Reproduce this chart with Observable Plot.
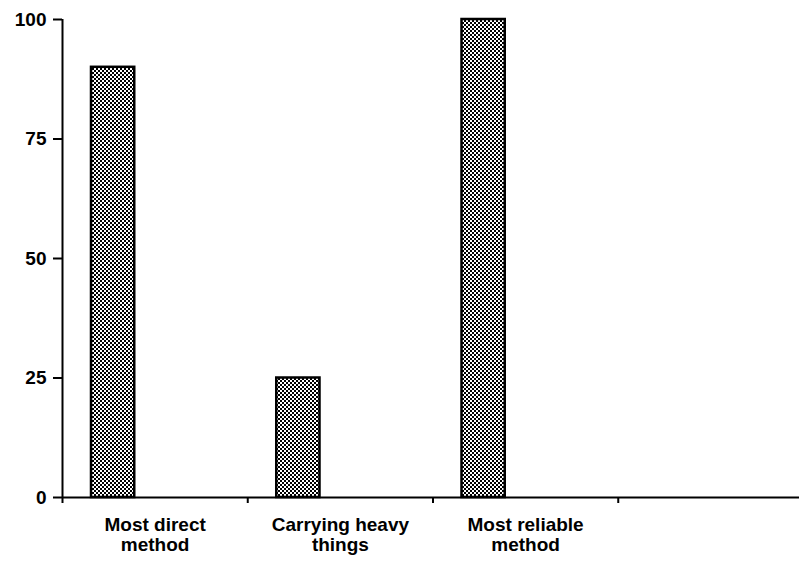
<!DOCTYPE html>
<html>
<head>
<meta charset="utf-8">
<script src="https://cdn.jsdelivr.net/npm/d3@7"></script>
<script src="https://cdn.jsdelivr.net/npm/@observablehq/plot@0.6"></script>
<style>
  html, body { margin: 0; padding: 0; background: #fff; }
  #chart svg { display: block; }
</style>
</head>
<body>
<div id="chart"></div>
<script>
const categories = ["Most direct\nmethod", "Carrying heavy\nthings", "Most reliable\nmethod", ""];
const values = [90, 25, 100, null];
const yTicks = [0, 25, 50, 75, 100];
const xTickPositions = [0, 1, 2, 3];

const data = categories.map((c, i) => ({ cat: c, i, value: values[i] }));
const bars = data.filter(d => d.value != null);

const font = "'Liberation Sans', Arial, sans-serif";

const chart = Plot.plot({
  width: 799,
  height: 564,
  marginLeft: 62,
  marginRight: 0,
  marginTop: 19,
  marginBottom: 67,
  style: { fontFamily: font, fontSize: "19px", fontWeight: "bold", color: "#000", background: "#fff" },
  x: { type: "linear", domain: [0, 4], range: [62, 803] },
  y: { domain: [0, 100] },
  marks: [
    Plot.rectY(bars, {
      x1: d => d.i, x2: d => d.i + 1, y: "value",
      insetLeft: 29, insetRight: 113,
      fill: "url(#chk)", stroke: "#000", strokeWidth: 2.5
    }),
    Plot.ruleY([0], { stroke: "#000", strokeWidth: 2 }),
    Plot.ruleX([0], { y1: 0, y2: 100, stroke: "#000", strokeWidth: 2 }),
    Plot.axisY({ ticks: yTicks, tickSize: 9, tickPadding: 7, tickFormat: d => String(d), label: null, fontSize: 19, fontWeight: "bold", stroke: "#000", strokeWidth: 2 }),
    Plot.axisX({ ticks: xTickPositions, tickSize: 6, tickFormat: () => "", label: null, stroke: "#000", strokeWidth: 2 }),
    Plot.text(data, {
      x: d => d.i + 0.5, y: 0, text: "cat",
      lineAnchor: "top", dy: 19, lineHeight: 1.05,
      fontSize: 19, fontWeight: "bold", fill: "#000"
    })
  ]
});

chart.insertAdjacentHTML("afterbegin",
  '<defs><pattern id="chk" width="4" height="4" patternUnits="userSpaceOnUse">' +
  '<rect width="4" height="4" fill="#fff"/>' +
  '<rect x="0" y="0" width="2" height="2" fill="#000"/>' +
  '<rect x="2" y="2" width="2" height="2" fill="#000"/>' +
  '</pattern></defs>');

document.getElementById("chart").appendChild(chart);
</script>
</body>
</html>
